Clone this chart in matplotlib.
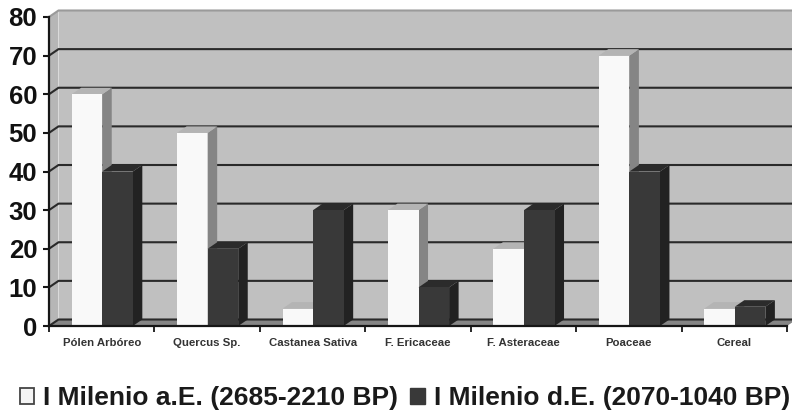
import matplotlib
matplotlib.use("Agg")
import matplotlib.pyplot as plt
from matplotlib.patches import Polygon, Patch

categories = ["Pólen Arbóreo", "Quercus Sp.", "Castanea Sativa", "F. Ericaceae",
              "F. Asteraceae", "Poaceae", "Cereal"]
series_a = [60, 50, 4.5, 30, 20, 70, 4.5]
series_b = [40, 20, 30, 10, 30, 40, 5]
label_a = "I Milenio a.E. (2685-2210 BP)"
label_b = "I Milenio d.E. (2070-1040 BP)"
yticks = list(range(0, 90, 10))

W, H = 792, 412
plt.rcParams["font.family"] = ["Liberation Sans", "DejaVu Sans"]
fig = plt.figure(figsize=(W / 100, H / 100), dpi=100, facecolor="white")
L, R, B, T = 49, 787, 326, 17
ax = fig.add_axes([L / W, 1 - B / H, (R - L) / W, (B - T) / H])
ax.set_xlim(0, 7)
ax.set_ylim(0, 80)

dx = 9.5 * 7 / (R - L)
dy = 6.5 * 80 / (B - T)
xmax = 7 + 5 * 7 / (R - L)


def poly(pts, fc, z, ec="none", lw=0):
    ax.add_patch(Polygon(pts, closed=True, fc=fc, ec=ec, lw=lw, zorder=z, clip_on=False))


# walls and floor
poly([(dx, dy), (xmax, dy), (xmax, 80 + dy), (dx, 80 + dy)], "#c0c0c0", 1)
poly([(0, 0), (dx, dy), (dx, 80 + dy), (0, 80)], "#b6b6b6", 1)
poly([(0, 0), (7, 0), (xmax, dy * 5 / 9.5), (xmax, dy), (dx, dy)], "#858585", 1)

# back-wall grid
for v in yticks:
    col = "#9a9a9a" if v == 80 else "#2a2a2a"
    ax.plot([0, dx, xmax], [v, v + dy, v + dy], color=col, lw=1.5, zorder=2, clip_on=False)

# 3-D bars
w = 0.29
offset = 0.215
for i, (a, b) in enumerate(zip(series_a, series_b)):
    for x0, v, front, side, top in [
        (i + offset, a, "#f9f9f9", "#858585", "#b4b4b4"),
        (i + offset + w, b, "#393939", "#222222", "#2b2b2b"),
    ]:
        x1 = x0 + w
        poly([(x1, 0), (x1 + dx, dy), (x1 + dx, v + dy), (x1, v)], side, 3 + 2 * (x0 - i > offset))
        poly([(x0, v), (x1, v), (x1 + dx, v + dy), (x0 + dx, v + dy)], top, 3 + 2 * (x0 - i > offset))

ax.bar([i + offset + w / 2 for i in range(7)], series_a, width=w, color="#f9f9f9", zorder=4)
ax.bar([i + offset + 1.5 * w for i in range(7)], series_b, width=w, color="#393939", zorder=6)

# axes
for s in ("top", "right"):
    ax.spines[s].set_visible(False)
for s in ("left", "bottom"):
    ax.spines[s].set_color("#161616")
    ax.spines[s].set_linewidth(1.6)
    ax.spines[s].set_zorder(8)
ax.set_yticks(yticks)
ax.set_yticklabels([str(v) for v in yticks], fontsize=18.5, fontweight="bold", color="#111111")
ax.tick_params(axis="y", length=4.5, width=1.5, color="#161616", pad=4)
ax.set_xticks(range(8))
ax.set_xticklabels([])
ax.tick_params(axis="x", which="major", length=4.5, width=1.3, color="#161616")
ax.set_xticks([i + 0.5 for i in range(7)], minor=True)
ax.set_xticklabels(categories, minor=True, fontsize=8.2, fontweight="bold", color="#333333")
ax.tick_params(axis="x", which="minor", length=0, pad=9)

handles = [Patch(fc="#f4f4f4", ec="#444444", lw=1.3), Patch(fc="#393939", ec="#393939", lw=1)]
fig.legend(handles, [label_a, label_b], loc="center", bbox_to_anchor=(405 / W, 1 - 398 / H), ncol=2,
           frameon=False, prop={"size": 19, "weight": "bold"}, handlelength=0.55, handleheight=0.55,
           handletextpad=0.34, columnspacing=0.45, labelcolor="#1a1a1a", borderpad=0, borderaxespad=0)

fig.savefig("out.png", dpi=100, facecolor="white")
